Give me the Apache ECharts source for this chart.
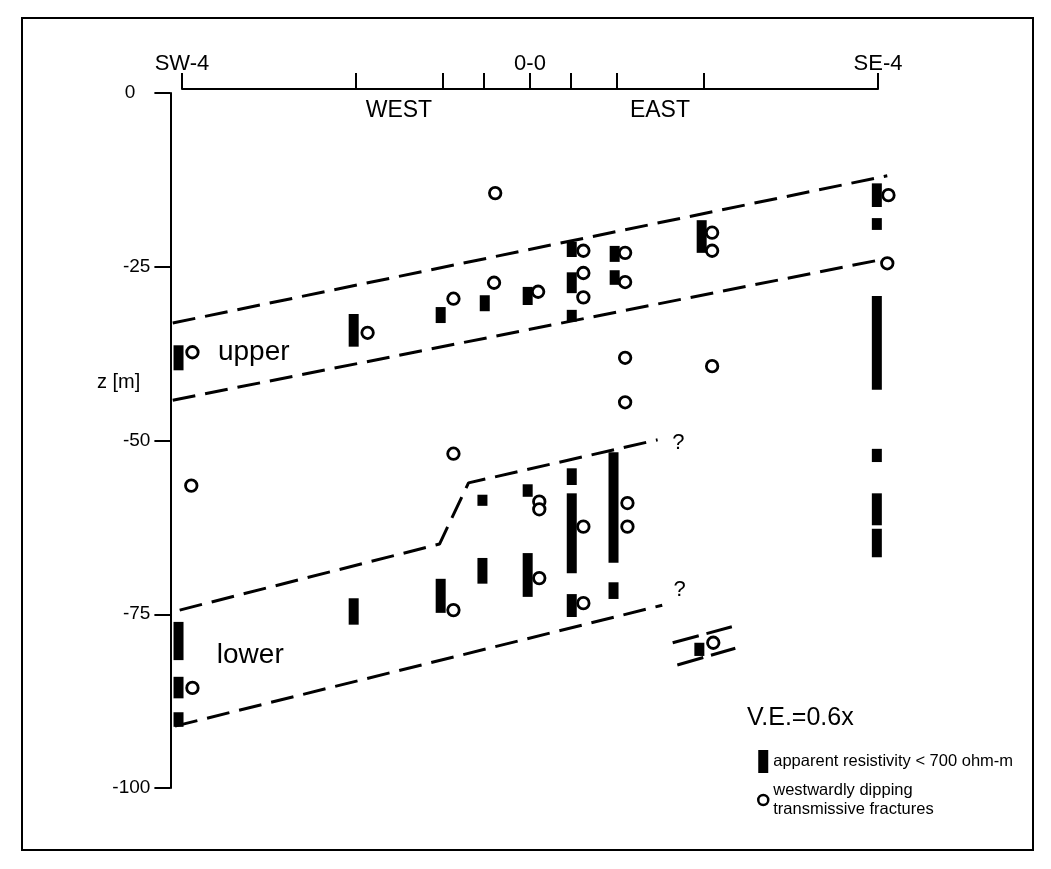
<!DOCTYPE html>
<html>
<head>
<meta charset="utf-8">
<script src="https://cdn.jsdelivr.net/npm/echarts@6/dist/echarts.min.js"></script>
<style>
  html, body { margin: 0; padding: 0; background: #fff; }
  #chart { width: 1051px; height: 869px; }
</style>
</head>
<body>
<div id="chart"></div>
<script>
// Cross-section between boreholes SW-4 and SE-4.
// x: horizontal distance from SW-4 (m), z: depth (m).

// borehole positions along the section line
const boreholeTicks = [0, 15, 22.5, 26, 30, 33.5, 37.5, 45, 60];
const boreholeLabelValues = [0, 30, 60];
const boreholeLabels = ['SW-4', '0-0', 'SE-4'];
const depthTicks = [0, -25, -50, -75, -100];

// apparent resistivity < 700 ohm-m intervals: [x, top z, bottom z]
const lowResistivity = [
  [-0.3, -36.3, -39.9], [-0.3, -76.1, -81.6], [-0.3, -84.0, -87.1], [-0.3, -89.1, -91.2],
  [14.8, -31.8, -36.5], [14.8, -72.7, -76.5],
  [22.3, -30.8, -33.1], [22.3, -69.9, -74.8],
  [26.1, -29.1, -31.4], [25.9, -57.8, -59.4], [25.9, -66.9, -70.6],
  [29.8, -27.9, -30.5], [29.8, -56.3, -58.1], [29.8, -66.2, -72.5],
  [33.6, -21.4, -23.6], [33.6, -25.8, -28.8], [33.6, -31.2, -32.9],
  [33.6, -54.0, -56.4], [33.6, -57.6, -69.1], [33.6, -72.1, -75.4],
  [37.3, -22.0, -24.3], [37.3, -25.5, -27.6], [37.2, -51.7, -67.6], [37.2, -70.4, -72.8],
  [44.8, -18.3, -23.0], [44.6, -79.1, -81.0],
  [59.9, -13.0, -16.4], [59.9, -18.0, -19.7], [59.9, -29.2, -42.7],
  [59.9, -51.2, -53.1], [59.9, -57.6, -62.2], [59.9, -62.7, -66.8]
];

// westwardly dipping transmissive fractures: [x, z]
const fractures = [
  [0.9, -37.3], [0.8, -56.5], [0.9, -85.6],
  [16.0, -34.5],
  [23.4, -29.6], [23.4, -51.9], [23.4, -74.4],
  [26.9, -27.3], [27.0, -14.4],
  [30.7, -28.6], [30.8, -58.8], [30.8, -59.9], [30.8, -69.8],
  [34.6, -22.7], [34.6, -25.9], [34.6, -29.4], [34.6, -62.4], [34.6, -73.4],
  [38.2, -23.0], [38.2, -27.2], [38.2, -38.1], [38.2, -44.5], [38.4, -59.0], [38.4, -62.4],
  [45.7, -20.1], [45.7, -22.7], [45.7, -39.3], [45.8, -79.1],
  [60.9, -14.7], [60.8, -24.5]
];

// zone boundaries: [x, z]
const upperZoneTop = [[-0.8, -33.1], [60.8, -11.9]];
const upperZoneBase = [[-0.8, -44.2], [60.2, -24.0]];
const lowerZoneTop = [[-0.2, -74.4], [22.2, -64.9], [24.7, -56.1], [41.0, -49.9]];
const lowerZoneBase = [[-0.6, -91.1], [41.4, -73.7]];
const eastZoneTop = [[42.3, -79.1], [47.4, -76.8]];
const eastZoneBase = [[42.7, -82.3], [47.7, -79.9]];

// text placed in section coordinates: [x, z, text]
const zoneLabels = [[3.1, -37.3, 'upper'], [3.0, -80.9, 'lower']];
const queryLabels = [[42.8, -50.4, '?'], [42.9, -71.5, '?']];
const sideLabels = [[18.7, -2.6, 'WEST'], [41.2, -2.6, 'EAST']];
const scaleNote = [[53.3, -89.9, 'V.E.=0.6x']];
const depthTitle = [[-3.6, -41.6, 'z [m]']];

const FONT = 'Liberation Sans, Arial, Helvetica, sans-serif';
const RES_NAME = 'apparent resistivity < 700 ohm-m';
const FRAC_NAME = 'westwardly dipping\ntransmissive fractures';

function textItems(list, fontSize, align) {
  return list.map(d => ({
    value: [d[0], d[1]],
    label: { formatter: d[2], fontSize: fontSize, align: align }
  }));
}

function boundary(data, dash) {
  return {
    type: 'line',
    data: data,
    symbol: 'none',
    silent: true,
    clip: false,
    z: 1,
    lineStyle: { color: '#000', width: 3, type: dash || [23, 10] }
  };
}

const chart = echarts.init(document.getElementById('chart'), null, { renderer: 'canvas' });

chart.setOption({
  animation: false,
  backgroundColor: '#fff',
  textStyle: { fontFamily: FONT, color: '#000' },
  graphic: [{
    type: 'rect',
    shape: { x: 22, y: 18, width: 1011, height: 832 },
    style: { fill: 'none', stroke: '#000', lineWidth: 2 },
    silent: true
  }],
  grid: [
    { left: 170.4, right: 22.2, top: 93, bottom: 81 },
    { left: 182, width: 696, top: 88, height: 1 }
  ],
  xAxis: [
    { type: 'value', gridIndex: 0, min: -1, max: 73, show: false },
    {
      type: 'value', gridIndex: 1, min: 0, max: 60, position: 'bottom',
      axisLine: { show: true, onZero: false, lineStyle: { color: '#000', width: 2 } },
      axisTick: { show: true, inside: true, length: 16, lineStyle: { color: '#000', width: 2 },
                  customValues: boreholeTicks },
      axisLabel: {
        show: true, inside: true, margin: 14, fontSize: 22, color: '#000', fontFamily: FONT,
        customValues: boreholeLabelValues, showMinLabel: true, showMaxLabel: true,
        formatter: v => boreholeLabels[boreholeLabelValues.indexOf(v)] || ''
      },
      splitLine: { show: false }
    }
  ],
  yAxis: [
    {
      type: 'value', gridIndex: 0, min: -100, max: 0, interval: 25,
      axisLine: { show: true, onZero: false, lineStyle: { color: '#000', width: 2 } },
      axisTick: { show: true, length: 16, lineStyle: { color: '#000', width: 2 }, customValues: depthTicks },
      axisLabel: {
        margin: 20, fontSize: 19, color: '#000', fontFamily: FONT, customValues: depthTicks,
        formatter: v => (v === 0 ? '{top|0}' : String(v)),
        rich: { top: { fontSize: 19, color: '#000', fontFamily: FONT, padding: [0, 15, 0, 0] } }
      },
      splitLine: { show: false }
    },
    { type: 'value', gridIndex: 1, min: 0, max: 1, show: false }
  ],
  legend: {
    orient: 'vertical',
    left: 757, top: 750,
    padding: 0,
    itemWidth: 10, itemHeight: 23, itemGap: 8,
    selectedMode: false,
    textStyle: { fontSize: 16.5, lineHeight: 19, color: '#000', fontFamily: FONT },
    data: [
      { name: RES_NAME, icon: 'rect', itemStyle: { color: '#000', borderWidth: 0 } },
      { name: FRAC_NAME, icon: 'circle', itemStyle: { color: '#fff', borderColor: '#000', borderWidth: 2.5 } }
    ]
  },
  series: [
    boundary(upperZoneTop),
    boundary(upperZoneBase),
    boundary(lowerZoneTop),
    boundary(lowerZoneBase),
    boundary(eastZoneTop, [27, 8]),
    boundary(eastZoneBase, [27, 8]),
    {
      name: RES_NAME,
      type: 'custom',
      xAxisIndex: 0, yAxisIndex: 0,
      data: lowResistivity,
      encode: { x: 0, y: [1, 2] },
      itemStyle: { color: '#000' },
      z: 3,
      renderItem: function (params, api) {
        const top = api.coord([api.value(0), api.value(1)]);
        const bot = api.coord([api.value(0), api.value(2)]);
        return {
          type: 'rect',
          shape: { x: top[0] - 5, y: top[1], width: 10, height: bot[1] - top[1] },
          style: { fill: '#000' }
        };
      }
    },
    {
      name: FRAC_NAME,
      type: 'scatter',
      data: fractures,
      symbol: 'circle',
      symbolSize: 11.5,
      z: 4,
      itemStyle: { color: '#fff', borderColor: '#000', borderWidth: 2.8, opacity: 1 }
    },
    {
      type: 'scatter',
      silent: true,
      clip: false,
      symbolSize: 0,
      z: 5,
      itemStyle: { color: '#000' },
      label: {
        show: true, position: [0, 0], color: '#000', fontFamily: FONT,
        verticalAlign: 'middle', textBorderWidth: 0, opacity: 1
      },
      data: [].concat(
        textItems(zoneLabels, 28, 'left'),
        textItems(queryLabels, 22, 'center'),
        textItems(sideLabels, 23, 'center'),
        textItems(scaleNote, 25, 'center'),
        textItems(depthTitle, 20, 'right')
      )
    }
  ]
});
</script>
</body>
</html>
